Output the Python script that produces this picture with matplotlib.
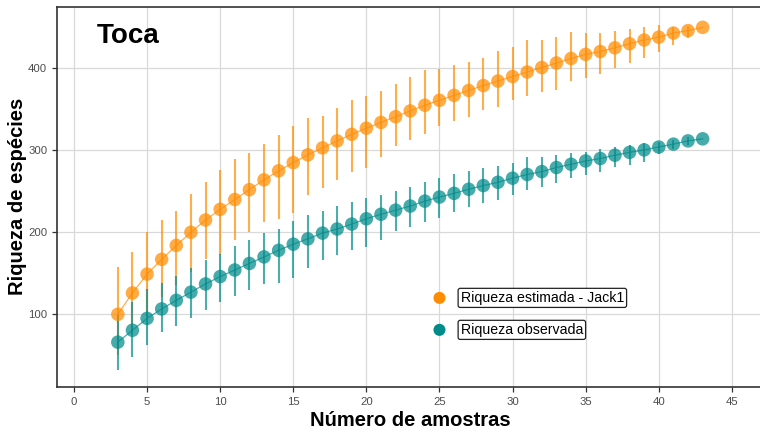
import matplotlib
matplotlib.use("Agg")
import matplotlib.pyplot as plt
import numpy as np

plt.rcParams['font.family'] = ['Liberation Sans', 'DejaVu Sans']

amostras = list(range(3, 44))

jack1_mean = [100, 126, 149, 167, 184, 200, 215, 228, 240, 252, 264, 275, 285, 294.5,
              303, 311.5, 319.5, 327, 334, 341, 348, 355, 361, 367, 373, 379, 384.5,
              390, 395.5, 401, 406.5, 412, 417, 420.5, 425, 430, 434.5, 438, 443, 446, 450]
jack1_upper = [158, 176, 200, 215, 226, 247, 261, 276, 289, 297, 308, 319, 330, 339,
               342, 351, 361, 366, 372, 381, 390, 398, 399, 404, 408, 412, 421,
               426, 434, 434, 438, 444, 443, 443, 446, 448, 451, 453, 451, 452, 450]
jack1_lower = [50, 76, 97, 121, 136, 152, 168, 172, 190, 200, 213, 216, 224, 245,
               254, 264, 273, 279, 292, 305, 313, 320, 330, 336, 341, 349, 353,
               361, 366, 371, 374, 385, 388, 393, 401, 407, 412, 420, 428, 437, 450]

obs_mean = [66, 80.5, 95, 106.5, 117, 127, 137, 146, 154, 162, 170, 178, 185.5, 192,
            199, 204, 210, 216.5, 222, 227, 232, 238, 243, 247.5, 252.5, 257, 261,
            266, 270.5, 274, 279, 283, 287, 290, 294, 297.5, 300.5, 304, 307.5, 311.5, 314]
obs_upper = [99, 115, 130.5, 138.5, 147, 156, 166, 174, 183, 190, 199, 204, 214, 221,
             226, 232, 237, 241.5, 245.5, 250, 255.6, 261.7, 265.8, 271, 275, 279, 281,
             284, 292, 292, 294, 297, 298, 302, 304, 306.5, 308.5, 310.5, 312, 316, 314]
obs_lower = [32, 48, 62.6, 78, 86, 96, 105, 115, 122, 130, 137, 138, 144, 157,
             166, 172, 178, 182.5, 190.6, 202, 207, 213, 217, 225, 231, 236, 240,
             245.5, 251.6, 255.6, 260, 266, 270, 274, 280, 282, 286, 296, 302, 307, 314]

x_ticks = [0, 5, 10, 15, 20, 25, 30, 35, 40, 45]
y_ticks = [100, 200, 300, 400]

title = "Toca"
xlabel = "Número de amostras"
ylabel = "Riqueza de espécies"
label_jack = "Riqueza estimada - Jack1"
label_obs = "Riqueza observada"

c_orange = "#FF8C00"
c_teal = "#008B8B"

W, H = 760, 432
fig = plt.figure(figsize=(W / 100, H / 100), dpi=100)
ax = fig.add_axes([57 / W, 45 / H, (762 - 57) / W, (387 - 7) / H])

ax.set_xlim(-1.16, 47.06)
ax.set_ylim(11.3, 474.8)

ax.set_xticks(x_ticks)
ax.set_yticks(y_ticks)
ax.grid(True, color="#D9D9D9", linewidth=0.9)
ax.set_axisbelow(True)

for (mean, lo, hi, col) in [(jack1_mean, jack1_lower, jack1_upper, c_orange),
                            (obs_mean, obs_lower, obs_upper, c_teal)]:
    ax.vlines(amostras, lo, hi, colors=col, linewidth=1.5, alpha=0.7, zorder=2)
    ax.plot(amostras, mean, color=col, linewidth=0.9, alpha=0.7, zorder=3)
    ax.scatter(amostras, mean, s=95, color=col, alpha=0.72, edgecolors='none', zorder=4)

# annotation legend
ax.scatter([25], [120], s=75, color=c_orange, edgecolors='none', zorder=5)
ax.scatter([25], [81], s=75, color=c_teal, edgecolors='none', zorder=5)
bbox = dict(boxstyle="round,pad=0.18,rounding_size=0.15", facecolor="white",
            edgecolor="#222222", linewidth=0.9)
ax.text(26.45, 120, label_jack, fontsize=10.2, ha='left', va='center', bbox=bbox, zorder=6)
ax.text(26.45, 81, label_obs, fontsize=10.2, ha='left', va='center', bbox=bbox, zorder=6)

ax.text(1.55, 440, title, fontsize=20, fontweight='bold', ha='left', va='center')

fig.text(410 / W, 1 - 420 / H, xlabel, fontsize=14.5, fontweight='bold',
         ha='center', va='center')
fig.text(18 / W, 1 - 196 / H, ylabel, fontsize=14.5, fontweight='bold',
         ha='center', va='center', rotation=90)

ax.tick_params(axis='both', labelsize=8.2, colors="#333333", labelcolor="#4D4D4D",
               length=3.5, width=0.9)
for side in ['left', 'bottom', 'top', 'right']:
    ax.spines[side].set_color("#333333")
    ax.spines[side].set_linewidth(1.2)

fig.savefig("out.png", dpi=100)
